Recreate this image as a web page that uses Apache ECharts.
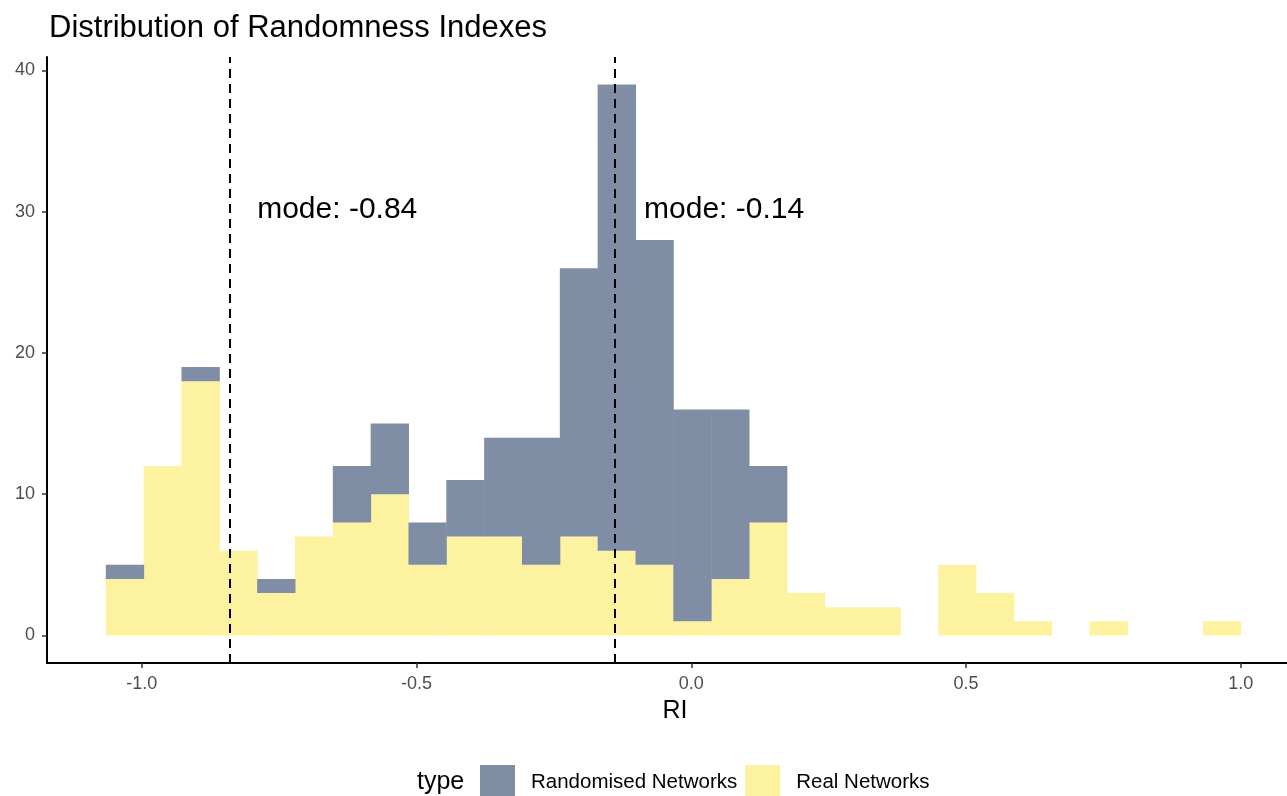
<!DOCTYPE html>
<html>
<head>
<meta charset="utf-8">
<script src="https://cdn.jsdelivr.net/npm/echarts@6/dist/echarts.min.js"></script>
<style>
  html, body { margin: 0; padding: 0; background: #fff; }
  #chart { width: 1287px; height: 796px; }
</style>
</head>
<body>
<div id="chart"></div>
<script>
// histogram breaks (30 bins)
const binStart = -1.0655;
const binWidth = 0.06885;

// counts per bin
const realCounts = [4, 12, 18, 6, 3, 7, 8, 10, 5, 7, 7, 5, 7, 6, 5, 1, 4, 8, 3, 2, 2, 0, 5, 3, 1, 0, 1, 0, 0, 1];
const randCounts = [1, 0, 1, 0, 1, 0, 4, 5, 3, 4, 7, 9, 19, 33, 23, 15, 12, 4, 0, 0, 0, 0, 0, 0, 0, 0, 0, 0, 0, 0];

const modes = [-0.84, -0.136];
const modeLabels = ['mode: -0.84', 'mode: -0.14'];

const xTicks = [-1, -0.5, 0, 0.5, 1];
const yTicks = [0, 10, 20, 30, 40];

const colRand = '#7F8EA4';
const colReal = '#FDF2A0';
const font = '"Liberation Sans", Arial, sans-serif';

// rectangles: [x0, x1, y0, y1]
const realRects = realCounts.map((c, i) => [binStart + i * binWidth, binStart + (i + 1) * binWidth, 0, c]);
const randRects = randCounts.map((c, i) => [binStart + i * binWidth, binStart + (i + 1) * binWidth, realCounts[i], realCounts[i] + c]);

function rectItem(params, api) {
  const p0 = api.coord([api.value(0), api.value(2)]);
  const p1 = api.coord([api.value(1), api.value(3)]);
  if (api.value(3) - api.value(2) <= 0) return null;
  return {
    type: 'rect',
    shape: { x: p0[0], y: p1[1], width: p1[0] - p0[0] + 0.5, height: p0[1] - p1[1] },
    style: { fill: api.visual('color') }
  };
}

const chart = echarts.init(document.getElementById('chart'));
chart.setOption({
  animation: false,
  title: {
    text: 'Distribution of Randomness Indexes',
    left: 44, top: 8,
    textStyle: { fontFamily: font, fontSize: 31, fontWeight: 'normal', color: '#000' }
  },
  grid: { left: 47, right: 0, top: 57, bottom: 133 },
  xAxis: {
    type: 'value',
    min: -1.1725, max: 1.084,
    splitLine: { show: false },
    axisLine: { onZero: false, lineStyle: { color: '#000', width: 2 } },
    axisTick: { customValues: xTicks, length: 5, lineStyle: { color: '#333', width: 1.5 } },
    axisLabel: {
      customValues: xTicks, margin: 12,
      formatter: v => v.toFixed(1),
      fontFamily: font, fontSize: 18, color: '#4D4D4D'
    }
  },
  yAxis: {
    type: 'value',
    min: -1.95, max: 40.95,
    splitLine: { show: false },
    axisLine: { show: true, onZero: false, lineStyle: { color: '#000', width: 2 } },
    axisTick: { show: true, customValues: yTicks, length: 5, lineStyle: { color: '#333', width: 1.5 } },
    axisLabel: { customValues: yTicks, margin: 12, fontFamily: font, fontSize: 18, color: '#4D4D4D' }
  },
  legend: {
    left: 480, top: 765, padding: 0,
    itemWidth: 35, itemHeight: 35, itemGap: 8,
    icon: 'rect',
    textStyle: { fontFamily: font, fontSize: 20.5, color: '#000', padding: [0, 0, 0, 11] },
    data: ['Randomised Networks', 'Real Networks']
  },
  graphic: [
    { type: 'text', x: 417, y: 782, style: { text: 'type', font: '25px ' + font, fill: '#000', verticalAlign: 'middle' } },
    { type: 'text', x: 675, y: 711, style: { text: 'RI', font: '25px ' + font, fill: '#000', align: 'center', verticalAlign: 'middle' } }
  ],
  series: [
    {
      name: 'Real Networks', type: 'custom', color: colReal,
      renderItem: rectItem, data: realRects, encode: { x: [0, 1], y: [2, 3] }
    },
    {
      name: 'Randomised Networks', type: 'custom', color: colRand,
      renderItem: rectItem, data: randRects, encode: { x: [0, 1], y: [2, 3] },
      markLine: {
        silent: true, symbol: 'none', label: { show: false },
        lineStyle: { color: '#000', width: 2, type: [9, 6] },
        data: modes.map(m => ({ xAxis: m }))
      }
    },
    {
      name: 'labels', type: 'custom',
      data: modes.map((m, i) => [m + 0.05, 30, i]),
      renderItem: (params, api) => {
        const p = api.coord([api.value(0), api.value(1)]);
        return {
          type: 'text', x: p[0], y: p[1] - 2,
          style: { text: modeLabels[api.value(2)], font: '30px ' + font, fill: '#000', align: 'left', verticalAlign: 'middle' }
        };
      },
      z: 5
    }
  ]
});
</script>
</body>
</html>
